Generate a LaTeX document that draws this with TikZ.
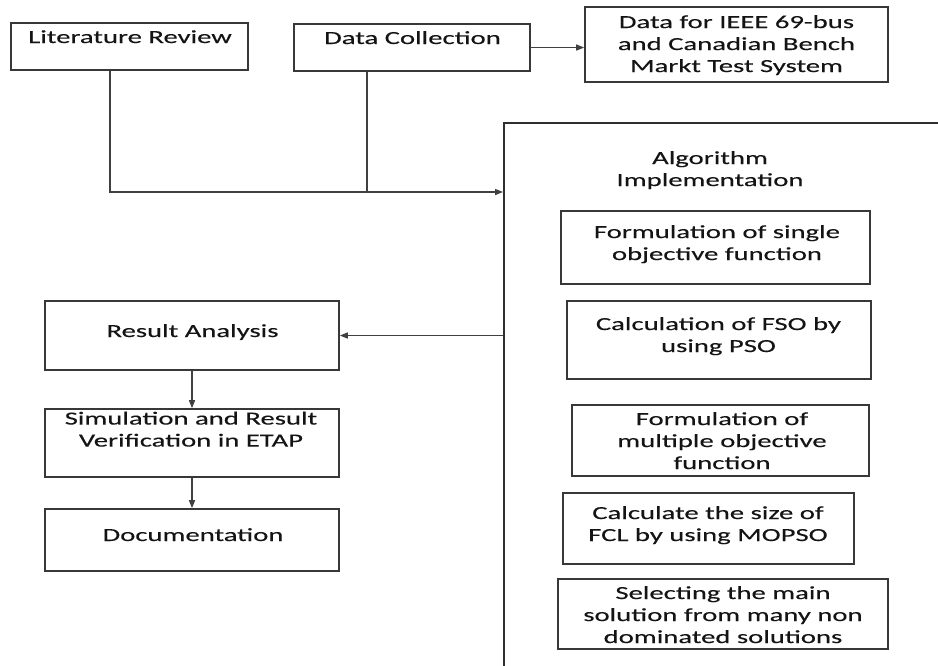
\documentclass[tikz,border=0pt]{standalone}
\usepackage{fontspec}
\setmainfont{Carlito}[FakeStretch=1.55,FakeBold=0.2]
\usetikzlibrary{arrows.meta}
\begin{document}
\begin{tikzpicture}[x=1pt,y=-1pt,
  font=\fontsize{18.5}{22}\selectfont,
  frame/.style={draw=black!78, line width=1.6pt, inner sep=0pt},
  container/.style={draw=black!82, line width=1.9pt, inner sep=0pt},
  caption/.style={inner sep=0pt, align=center, text=black!92},
  link/.style={draw=black!75, line width=1.2pt},
  arrowlink/.style={link, -{Triangle[length=8pt,width=6pt]}},
]
\clip (0,0) rectangle (938,665);
\fill[white] (0,0) rectangle (938,665);

% top row
\node[frame, minimum width=237pt, minimum height=47pt] (lr) at (129.5,46.5) {};
\node[caption, anchor=base] (lrtext) at (130,43) {Literature Review};
\node[frame, minimum width=236pt, minimum height=47pt] (dc) at (412,47.5) {};
\node[caption, anchor=base] (dctext) at (412.5,44) {Data Collection};
\node[frame, minimum width=303pt, minimum height=75pt] (ieee) at (736.5,44.5) {};
\node[caption, anchor=north] (ieeetext) at (736.5,15)
  {Data for IEEE 69-bus\\and Canadian Bench\\Markt Test System};

% algorithm container (runs past the page edge)
\node[container, minimum width=496pt, minimum height=597pt] (alg) at (752,421.5) {};
\node[caption, anchor=north] (algtext) at (710,151) {Algorithm\\Implementation};

\node[frame, minimum width=309pt, minimum height=73pt] (f1) at (715.5,247.5) {};
\node[caption, anchor=north] (f1text) at (717,225)
  {Formulation of single\\objective function};
\node[frame, minimum width=304pt, minimum height=78pt] (f2) at (719,340) {};
\node[caption, anchor=north] (f2text) at (718.5,317)
  {Calculation of FSO by\\using PSO};
\node[frame, minimum width=297pt, minimum height=71pt] (f3) at (720.5,440.5) {};
\node[caption, anchor=north] (f3text) at (722,412)
  {Formulation of\\multiple objective\\function};
\node[frame, minimum width=291pt, minimum height=71pt] (f4) at (708.5,528.5) {};
\node[caption, anchor=north] (f4text) at (708,506)
  {Calculate the size of\\FCL by using MOPSO};
\node[frame, minimum width=330pt, minimum height=70pt] (f5) at (723,614) {};
\node[caption, anchor=north] (f5text) at (723,586)
  {Selecting the main\\solution from many non\\dominated solutions};

% left column
\node[frame, minimum width=294pt, minimum height=69pt] (ra) at (192,335.5) {};
\node[caption, anchor=base] (ratext) at (192.5,337) {Result Analysis};
\node[frame, minimum width=294pt, minimum height=68pt] (sim) at (192,443) {};
\node[caption, anchor=north] (simtext) at (191,411.5)
  {Simulation and Result\\Verification in ETAP};
\node[frame, minimum width=294pt, minimum height=62pt] (doc) at (192,540) {};
\node[caption, anchor=base] (doctext) at (193,541) {Documentation};

% connectors
\coordinate (lrbend) at (110,192);
\coordinate (join) at (367,192);
\draw[link] (lr.south -| lrbend) -- (lrbend) -- (join);
\draw[link] (dc.south -| join) -- (join);
\draw[arrowlink] (join) -- (join -| alg.west);
\draw[arrowlink] (dc.east) -- (dc.east -| ieee.west);
\draw[arrowlink] (ra.east -| alg.west) -- (ra.east);
\draw[arrowlink] (ra.south) -- (sim.north);
\draw[arrowlink] (sim.south) -- (doc.north);
\end{tikzpicture}
\end{document}
